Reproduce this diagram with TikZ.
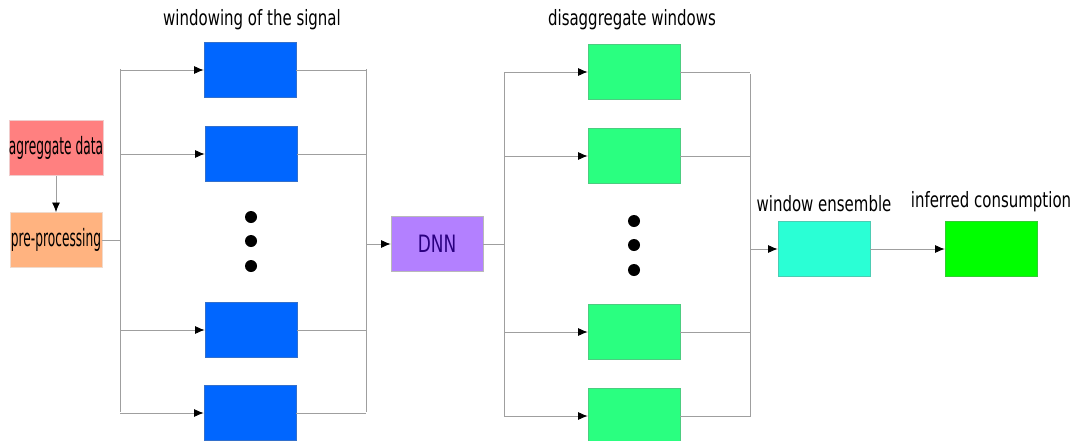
\documentclass[tikz,border=0pt]{standalone}
\usepackage{fontspec}
\setmainfont[FakeStretch=0.71]{DejaVu Sans}
\newfontfamily\boxfont[FakeStretch=0.51]{DejaVu Sans}
\usetikzlibrary{positioning, arrows.meta}
\definecolor{aggred}{HTML}{FF8080}
\definecolor{preorange}{HTML}{FFB380}
\definecolor{winblue}{HTML}{0066FF}
\definecolor{disgreen}{HTML}{2AFF80}
\definecolor{dnnviolet}{HTML}{B380FF}
\definecolor{dnntext}{HTML}{2A0080}
\definecolor{enscyan}{HTML}{2AFFD5}
\definecolor{outgreen}{HTML}{00FF00}
\tikzstyle{block} = [rectangle, draw=gray!55, minimum width=2.3cm, minimum height=1.38cm, inner sep=0pt, font=\boxfont\fontsize{17}{19}\selectfont]
\tikzstyle{winbox} = [block, fill=winblue, draw=winblue!60!gray]
\tikzstyle{disbox} = [block, fill=disgreen, draw=disgreen!60!gray]
\tikzstyle{heading} = [font=\fontsize{15}{17}\selectfont, inner sep=1pt]
\tikzstyle{wire} = [draw=gray!75, line width=0.6pt]
\tikzstyle{arrow} = [wire, -{Latex[length=2.4mm, width=2mm, color=black]}]
\tikzstyle{dot} = [circle, fill=black, inner sep=0pt, minimum size=0.3cm]

\begin{document}
\begin{tikzpicture}[x=0.025cm, y=-0.025cm]
\useasboundingbox (0,0) rectangle (1074,441);
% input side
\node (agg) [block, fill=aggred, draw=aggred!70!gray!40] at (56,148) {agreggate data};
\node (pre) [block, fill=preorange, draw=preorange!70!gray!40] at (56,240) {pre-processing};

% windows of the signal
\node (w1) [winbox] at (250,70) {};
\node (w2) [winbox] at (251,154) {};
\node (w3) [winbox] at (251,330) {};
\node (w4) [winbox] at (250,413) {};
\node (wd1) [dot] at (251,217) {};
\node (wd2) [dot] at (251,241) {};
\node (wd3) [dot] at (251,266) {};
\node (wtitle) [heading] at (252,20) {windowing of the signal};

\node (dnn) [block, fill=dnnviolet, text=dnntext, font=\fontsize{17}{19}\selectfont] at (437,244) {DNN};

% disaggregated windows
\node (d1) [disbox] at (634,72) {};
\node (d2) [disbox] at (634,156) {};
\node (d3) [disbox] at (634,332) {};
\node (d4) [disbox] at (634,416) {};
\node (dd1) [dot] at (634,221) {};
\node (dd2) [dot] at (634,245) {};
\node (dd3) [dot] at (634,270) {};
\node (dtitle) [heading] at (632,20) {disaggregate windows};

% output side
\node (ens) [block, fill=enscyan, draw=enscyan!60!gray] at (824,249) {};
\node (out) [block, fill=outgreen, draw=outgreen!60!gray] at (991,249) {};
\node (enstitle) [heading, above=0.18cm of ens] {window ensemble};
\node (outtitle) [heading, above=0.18cm of out] {inferred consumption};

% bus lines
\coordinate (ltop) at (120,69);
\coordinate (lbot) at (120,412);
\coordinate (mtop) at (366,69);
\coordinate (mbot) at (366,412);
\coordinate (ntop) at (504,72);
\coordinate (nbot) at (504,416);
\coordinate (rtop) at (750,74);
\coordinate (rbot) at (750,417);

% connectors
\draw [arrow] (agg) -- (pre);
\draw [wire] (pre.east) -- (pre.east -| ltop);
\draw [wire] (ltop) -- (lbot);
\foreach \w in {w1,w2,w3,w4} {
  \draw [arrow] (ltop |- \w.west) -- (\w.west);
  \draw [wire] (\w.east) -- (mtop |- \w.east);
}
\draw [wire] (mtop) -- (mbot);
\draw [arrow] (mtop |- dnn.west) -- (dnn.west);
\draw [wire] (dnn.east) -- (ntop |- dnn.east);
\draw [wire] (ntop) -- (nbot);
\foreach \d in {d1,d2,d3,d4} {
  \draw [arrow] (ntop |- \d.west) -- (\d.west);
  \draw [wire] (\d.east) -- (rtop |- \d.east);
}
\draw [wire] (rtop) -- (rbot);
\draw [arrow] (rtop |- ens.west) -- (ens.west);
\draw [arrow] (ens) -- (out);
\end{tikzpicture}
\end{document}
